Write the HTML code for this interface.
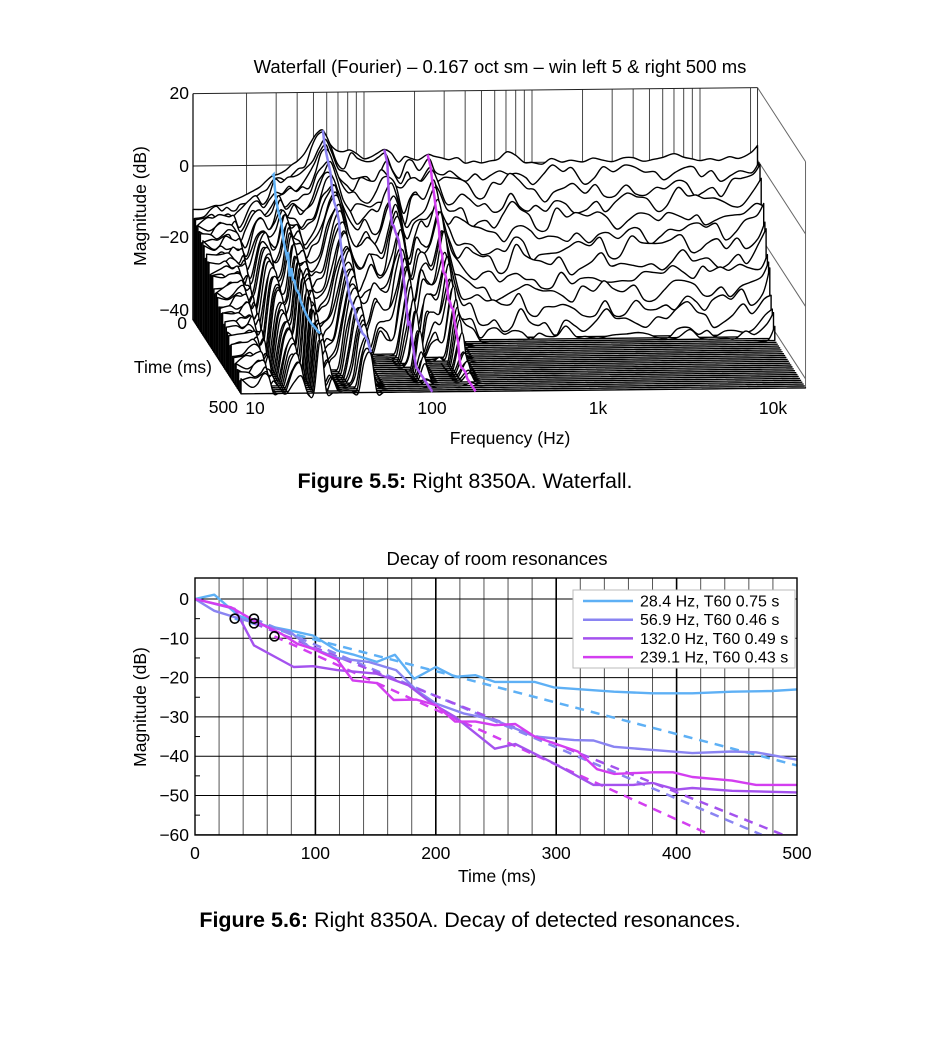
<!DOCTYPE html>
<html><head><meta charset="utf-8"><style>
html,body{margin:0;padding:0;background:#fff;}
svg{display:block;font-family:"Liberation Sans",Arial,sans-serif;}
</style></head><body>
<svg id="svg" width="930" height="1060" viewBox="0 0 930 1060">
<g id="wf"></g>
<g id="dc"></g>
<text x="500" y="73" font-size="18.5" text-anchor="middle">Waterfall (Fourier) – 0.167 oct sm – win left 5 &amp; right 500 ms</text>
<text x="146" y="206" font-size="17.5" text-anchor="middle" transform="rotate(-90 146 206)">Magnitude (dB)</text>
<text x="189" y="99" font-size="17.5" text-anchor="end">20</text>
<text x="189" y="172" font-size="17.5" text-anchor="end">0</text>
<text x="189" y="243" font-size="17.5" text-anchor="end">−20</text>
<text x="189" y="316" font-size="17.5" text-anchor="end">−40</text>
<text x="187" y="329" font-size="17.5" text-anchor="end">0</text>
<text x="212" y="373" font-size="17.5" text-anchor="end">Time (ms)</text>
<text x="238" y="413" font-size="17.5" text-anchor="end">500</text>
<text x="255" y="414" font-size="17.5" text-anchor="middle">10</text>
<text x="432" y="414" font-size="17.5" text-anchor="middle">100</text>
<text x="598" y="414" font-size="17.5" text-anchor="middle">1k</text>
<text x="773" y="414" font-size="17.5" text-anchor="middle">10k</text>
<text x="510" y="444" font-size="17.5" text-anchor="middle">Frequency (Hz)</text>
<text x="465" y="488" font-size="21.5" text-anchor="middle"><tspan font-weight="bold">Figure 5.5:</tspan> Right 8350A. Waterfall.</text>

<text x="497" y="565" font-size="18.5" text-anchor="middle">Decay of room resonances</text>
<text x="146" y="707" font-size="17.5" text-anchor="middle" transform="rotate(-90 146 707)">Magnitude (dB)</text>
<text x="497" y="882" font-size="17.5" text-anchor="middle">Time (ms)</text>
<text x="470" y="927" font-size="21.5" text-anchor="middle"><tspan font-weight="bold">Figure 5.6:</tspan> Right 8350A. Decay of detected resonances.</text>
</svg>
<script>
var NS='http://www.w3.org/2000/svg';
// ---------- Waterfall data ----------
var wfFreqs=[9.6,11,12,13,14,15,16,17,18,20,22,24,26,28.4,31,34,37,40,44,48,52,56.9,62,68,75,82,90,100,110,120,132,145,160,175,190,210,239,260,290,320,360,400,450,500,560,630,710,800,900,1000,1150,1300,1500,1700,2000,2300,2600,3000,3500,4000,4600,5300,6000,7000,8000,9000,10000,11500,13000,15000,17000,20000,22000];
var wfBaseDb=[-12,-12,-11.5,-11,-11,-10.5,-10,-9.5,-9,-8,-7,-6,-4.5,-3,-2.5,-1.5,0,1,3,6,8.5,9.5,6,4,3.5,4,3,1.5,2,3,4,3,0.5,2,1.5,1,2.5,2,1.5,1,1.5,0,0.5,0,0.5,1,3,2,0,0,-0.5,1,0,0.5,0,1,0.5,0,1,1,0,0.5,1,2,1,0.5,0,0.5,0,1,0.5,2,4];
var wfDecayRate=[0.055,0.055,0.055,0.055,0.055,0.07,0.07,0.12,0.12,0.06,0.06,0.1,0.1,0.05,0.08,0.08,0.12,0.12,0.12,0.1,0.085,0.082,0.1,0.15,0.2,0.2,0.17,0.17,0.17,0.13,0.1,0.15,0.2,0.16,0.15,0.15,0.1,0.15,0.22,0.24,0.25,0.26,0.27,0.27,0.28,0.28,0.27,0.28,0.28,0.28,0.28,0.27,0.28,0.28,0.28,0.27,0.28,0.28,0.27,0.28,0.28,0.28,0.27,0.26,0.27,0.27,0.27,0.27,0.27,0.26,0.26,0.25,0.24];
var wfRipple=[0.6,-0.8,0.3,1,-0.5,-1,0.7,0.2,-0.6,0.9,-0.3,0.5,-0.9,0.1,0.8,-0.7,0.4,-0.2,1,-1,0.3,0.6,-0.4,-0.8,0.9,0,-0.6,0.7,-0.9,0.2,0.5];
var wfSliceCount=40;
var wfFloorDb=-42.5;
var wfPeakFreqs=[28.4,56.9,132.0,239.1];
var wfPeakDb=[-3,9.5,4,2.5];
// ---------- Decay chart data ----------
var resLabels=['28.4 Hz, T60 0.75 s','56.9 Hz, T60 0.46 s','132.0 Hz, T60 0.49 s','239.1 Hz, T60 0.43 s'];
var resColors=['#5eb0f5','#8a84f2','#a452ee','#d33ef0'];
var t284=[0,16,36,59,79,98,118,131,151,166,182,200,216,233,249,282,298,348,380,413,446,479,500];
var v284=[0,1.1,-4.2,-6.8,-8,-9.3,-13.1,-14.1,-16,-14.2,-20.3,-17.3,-19.8,-19.4,-21.1,-21.1,-22.5,-23.6,-24,-24,-23.6,-23.4,-23];
var t569=[0,16,33,52,79,95,118,144,167,184,200,223,249,282,315,331,348,380,413,446,466,500];
var v569=[0,-3,-4.6,-6.3,-8.4,-12.2,-15,-16,-18.1,-23.2,-26.6,-29.1,-30.8,-35,-35.9,-36,-37.6,-38.4,-39.2,-38.8,-39,-40.9];
var t1320=[0,33,49,82,98,118,151,177,197,216,249,266,298,331,364,380,400,413,446,500];
var v1320=[0,-2.5,-11.8,-17.3,-17.1,-18.1,-19,-21.9,-26.6,-30,-38.1,-36.9,-41.8,-47.3,-47.3,-46.8,-48.5,-48.1,-48.8,-49.2];
var t2391=[0,30,49,72,85,98,118,131,151,165,184,200,216,233,249,266,282,298,318,334,348,380,397,413,446,466,500];
var v2391=[0,-2.1,-5.5,-8.9,-11.4,-12.7,-15.4,-20.7,-21.4,-25.7,-25.6,-27,-31.2,-31.2,-32.1,-31.8,-35,-36.7,-38.8,-43.3,-44.5,-44.1,-44.1,-45.3,-46.2,-47.3,-47.3];
var fitStartT=[33,49,49,66];
var fitStartDb=[-5,-5,-6.2,-9.5];
var fitT60=[0.75,0.46,0.49,0.43];
var xTicks=[0,100,200,300,400,500];
var yTicks=[0,-10,-20,-30,-40,-50,-60];

var resTimes=[t284,t569,t1320,t2391];
var resVals=[v284,v569,v1320,v2391];

function mk(tag,attrs,parent){var e=document.createElementNS(NS,tag);for(var k in attrs)e.setAttribute(k,attrs[k]);parent.appendChild(e);return e;}
function smoothPath(p){var d='M'+p[0][0].toFixed(1)+' '+p[0][1].toFixed(1);
 for(var i=0;i<p.length-1;i++){var p0=p[Math.max(0,i-1)],p1=p[i],p2=p[i+1],p3=p[Math.min(p.length-1,i+2)];
  var c1x=p1[0]+(p2[0]-p0[0])/6,c1y=p1[1]+(p2[1]-p0[1])/6,c2x=p2[0]-(p3[0]-p1[0])/6,c2y=p2[1]-(p3[1]-p1[1])/6;
  d+=' C'+c1x.toFixed(1)+' '+c1y.toFixed(1)+' '+c2x.toFixed(1)+' '+c2y.toFixed(1)+' '+p2[0].toFixed(1)+' '+p2[1].toFixed(1);}
 return d;}

// ---------- Waterfall ----------
var wf=document.getElementById('wf');
function xb(f){return 196+168*Math.log10(f/10);}
function WX(f,t){return xb(f)+48*t/500;}
function WY(db,f,t){return 166-3.62*db-6*(xb(f)-193)/566+74*t/500;}
var fMin=wfFreqs[0],fMax=wfFreqs[wfFreqs.length-1];
var gridF=[20,30,40,50,60,70,80,90,100,200,300,400,500,600,700,800,900,1000,2000,3000,4000,5000,6000,7000,8000,9000,10000,20000];
gridF.forEach(function(f){
 var l=mk('line',{x1:xb(f),y1:WY(20,f,0),x2:xb(f),y2:WY(wfFloorDb,f,0),stroke:'#333','stroke-width':0.9},wf);
 
 
});
[20,0].forEach(function(db){
 var l=mk('line',{x1:xb(fMin),y1:WY(db,fMin,0),x2:xb(fMax),y2:WY(db,fMax,0),stroke:'#222','stroke-width':1},wf);
 
 
});
[20,0,-20,-40].forEach(function(db){
 var l=mk('line',{x1:xb(fMax),y1:WY(db,fMax,0),x2:WX(fMax,500),y2:WY(db,fMax,500),stroke:'#666','stroke-width':1},wf);
 
 
});
var rv=mk('line',{x1:WX(fMax,500),y1:WY(20,fMax,500),x2:WX(fMax,500),y2:WY(wfFloorDb,fMax,500),stroke:'#666','stroke-width':1},wf);


var rb=mk('line',{x1:xb(fMax),y1:WY(20,fMax,0),x2:xb(fMax),y2:WY(wfFloorDb,fMax,0),stroke:'#333','stroke-width':1},wf);


var ya=mk('line',{x1:193,y1:WY(20,fMin,0),x2:193,y2:WY(wfFloorDb,fMin,0),stroke:'#000','stroke-width':1.2},wf);


var ta=mk('line',{x1:193,y1:WY(wfFloorDb,fMin,0),x2:WX(fMin,500),y2:WY(wfFloorDb,fMin,500),stroke:'#000','stroke-width':1},wf);


for(var i=0;i<wfSliceCount;i++){
 var t=i*500/(wfSliceCount-1);
 var pts=[];
 for(var k=0;k<wfFreqs.length;k++){
  var amp=wfFreqs[k]<70?1.3:2.2;
  var lv=wfBaseDb[k]-wfDecayRate[k]*t+(i>0?amp*wfRipple[(k*3+i*5)%wfRipple.length]:0);
  if(lv<wfFloorDb)lv=wfFloorDb;
  pts.push([WX(wfFreqs[k],t),WY(lv,wfFreqs[k],t)]);
 }
 var d=smoothPath(pts)+' L'+WX(fMax,t).toFixed(1)+' '+WY(wfFloorDb,fMax,t).toFixed(1)+' L'+WX(fMin,t).toFixed(1)+' '+WY(wfFloorDb,fMin,t).toFixed(1)+' Z';
 var s=mk('path',{d:d,fill:'#fff',stroke:'#000','stroke-width':1.4,'stroke-linejoin':'round'},wf);
 
 
}
for(var r=0;r<wfPeakFreqs.length;r++){
 var p=[];
 for(var j=0;j<resTimes[r].length;j++){
  var tt=resTimes[r][j],lv=wfPeakDb[r]+resVals[r][j];
  if(lv<wfFloorDb)lv=wfFloorDb;
  p.push([WX(wfPeakFreqs[r],tt),WY(lv,wfPeakFreqs[r],tt)]);
 }
 var pl=mk('polyline',{points:p.map(function(q){return q[0].toFixed(1)+','+q[1].toFixed(1);}).join(' '),fill:'none',stroke:resColors[r],'stroke-width':2.5},wf);
 
 
}

// ---------- Decay chart ----------
var dc=document.getElementById('dc');
var PX0=195,PX1=797,PY0=578,PY1=835;
function DX(t){return PX0+t*(PX1-PX0)/500;}
function DY(db){return 599-db*3.93;}
for(var g=20;g<500;g+=20){
 var thick=(g%100===0);
 var gl=mk('line',{x1:DX(g),y1:PY0,x2:DX(g),y2:PY1,stroke:thick?'#000':'#555','stroke-width':thick?1.6:1},dc);
 
 
}
yTicks.forEach(function(v){
 var hl=mk('line',{x1:PX0,y1:DY(v),x2:PX1,y2:DY(v),stroke:'#000','stroke-width':1},dc);
 
 
 var tx=mk('text',{x:189,y:DY(v)+6,'font-size':17.5,'text-anchor':'end'},dc);
 tx.textContent=(v<0?'−'+(-v):''+v);
 
 
});
for(var m=-55;m<5;m+=10){
 var mt=mk('line',{x1:PX0,y1:DY(m),x2:PX0+5,y2:DY(m),stroke:'#000','stroke-width':1},dc);
 
 
}
xTicks.forEach(function(v){
 var tx=mk('text',{x:DX(v),y:859,'font-size':17.5,'text-anchor':'middle'},dc);
 tx.textContent=''+v;
 
 
});
for(var r=0;r<4;r++){
 var slope=-60/(fitT60[r]*1000);
 var tEnd=500,vEnd=fitStartDb[r]+slope*(500-fitStartT[r]);
 if(vEnd<-60){tEnd=fitStartT[r]+(-60-fitStartDb[r])/slope;vEnd=-60;}
 var fl=mk('line',{x1:DX(fitStartT[r]),y1:DY(fitStartDb[r]),x2:DX(tEnd),y2:DY(vEnd),stroke:resColors[r],'stroke-width':2.5,'stroke-dasharray':'9 7'},dc);
 
 
}
for(var r=0;r<4;r++){
 var pts=[];
 for(var j=0;j<resTimes[r].length;j++)pts.push(DX(resTimes[r][j]).toFixed(1)+','+DY(resVals[r][j]).toFixed(1));
 var pl=mk('polyline',{points:pts.join(' '),fill:'none',stroke:resColors[r],'stroke-width':2.4,'stroke-linejoin':'round'},dc);
 
 
}
for(var r=0;r<4;r++){
 var c=mk('circle',{cx:DX(fitStartT[r]),cy:DY(fitStartDb[r]),r:4.5,fill:'none',stroke:'#000','stroke-width':1.6},dc);
 
 
}
var box=mk('rect',{x:PX0,y:PY0,width:PX1-PX0,height:PY1-PY0,fill:'none',stroke:'#000','stroke-width':1.4},dc);


var lg=mk('g',{},dc);


var lr=mk('rect',{x:573,y:590,width:222,height:78,fill:'#fff',stroke:'#bbb','stroke-width':1},lg);


for(var r=0;r<4;r++){
 var yy=601+r*18.7;
 var ll=mk('line',{x1:583,y1:yy,x2:633,y2:yy,stroke:resColors[r],'stroke-width':2.5},lg);
 
 
 var lt=mk('text',{x:640,y:yy+5.5,'font-size':16},lg);
 lt.textContent=resLabels[r];
 
 
}
</script>
</body></html>
